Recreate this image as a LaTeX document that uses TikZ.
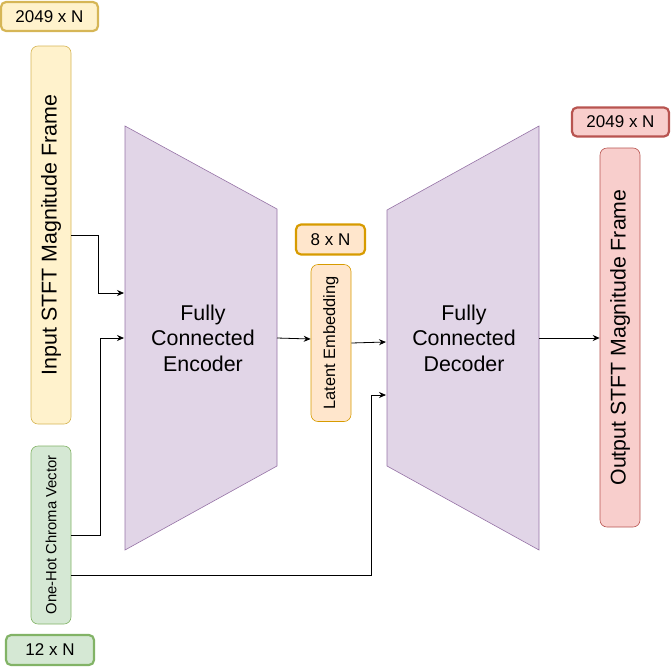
\documentclass[tikz,border=0pt]{standalone}
\usepackage{fontspec}
\setmainfont{Liberation Sans}
\usetikzlibrary{arrows.meta}

\definecolor{ylwfill}{HTML}{FFF2CC}
\definecolor{ylwline}{HTML}{D6B656}
\definecolor{grnfill}{HTML}{D5E8D4}
\definecolor{grnline}{HTML}{82B366}
\definecolor{orgfill}{HTML}{FFE6CC}
\definecolor{orgline}{HTML}{D79B00}
\definecolor{redfill}{HTML}{F8CECC}
\definecolor{redline}{HTML}{B85450}
\definecolor{prpfill}{HTML}{E1D5E7}
\definecolor{prpline}{HTML}{9673A6}

\tikzset{
  bar/.style={draw, rounded corners=7pt, minimum width=40pt, inner sep=0pt, line width=0.6pt},
  dimbox/.style={draw, rounded corners=5pt, line width=2.2pt, inner sep=0pt, font=\fontsize{17}{20}\selectfont},
  conn/.style={-{Stealth[length=7pt,width=6pt]}, line width=0.8pt},
}

\begin{document}
\begin{tikzpicture}[x=1pt,y=-1pt]
      \useasboundingbox (0,0) rectangle (671,667);
      % dimension labels
      \node[dimbox, draw=ylwline, fill=ylwfill, minimum width=97pt, minimum height=29pt] (dimIn) at (49.5,16.5) {2049 x N};
      \node[dimbox, draw=grnline, fill=grnfill, minimum width=88pt, minimum height=30pt] (dimChr) at (50,650) {12 x N};
      \node[dimbox, draw=orgline, fill=orgfill, minimum width=69pt, minimum height=30pt] (dimLat) at (330.5,239.5) {8 x N};
      \node[dimbox, draw=redline, fill=redfill, minimum width=97pt, minimum height=29pt] (dimOut) at (620.5,122) {2049 x N};
      % vertical bars
      \node[bar, draw=ylwline, fill=ylwfill, minimum height=378pt] (inp) at (51,235) {};
      \node[rotate=90, font=\fontsize{21.4}{25}\selectfont] at (inp) {Input STFT Magnitude Frame};
      \node[bar, draw=grnline, fill=grnfill, minimum height=178pt] (chroma) at (51,535) {};
      \node[rotate=90, font=\fontsize{14.8}{17}\selectfont] at (chroma) {One-Hot Chroma Vector};
      \node[bar, draw=orgline, fill=orgfill, minimum height=157pt] (lat) at (331,343) {};
      \node[rotate=90, font=\fontsize{16.4}{19}\selectfont] at (lat) {Latent Embedding};
      \node[bar, draw=redline, fill=redfill, minimum height=379pt] (out) at (620,337.5) {};
      \node[rotate=90, font=\fontsize{21.3}{25}\selectfont] at (out) {Output STFT Magnitude Frame};
      % encoder and decoder
      \draw[draw=prpline, fill=prpfill, line width=0.6pt] (125,126) -- (277,209) -- (277,466) -- (125,550) -- cycle;
      \draw[draw=prpline, fill=prpfill, line width=0.6pt] (387,210) -- (539,126) -- (539,550) -- (387,466) -- cycle;
      \node[align=center, font=\fontsize{21.4}{25.5}\selectfont] (enc) at (203,338) {Fully\\Connected\\Encoder};
      \node[align=center, font=\fontsize{21.4}{25.5}\selectfont] (dec) at (464,338) {Fully\\Connected\\Decoder};
      \coordinate (encA) at (124,293);
      \coordinate (encB) at (124,338);
      \coordinate (encR) at (277,338);
      \coordinate (decA) at (386,342);
      \coordinate (decB) at (386,395);
      \coordinate (decR) at (539,338);
      % connectors
      \draw[conn] (inp.east |- 0,235) -| (98,293) -- (encA);
      \draw[conn] (chroma.east |- 0,535) -| (100,338) -- (encB);
      \draw[conn] (chroma.east |- 0,575) -| (371,395) -- (decB);
      \draw[conn] (encR) -- (lat.west |- 0,339);
      \draw[conn] (lat.east |- 0,343) -- (decA);
      \draw[conn] (decR) -- (out.west |- decR);
    \end{tikzpicture}
\end{document}
